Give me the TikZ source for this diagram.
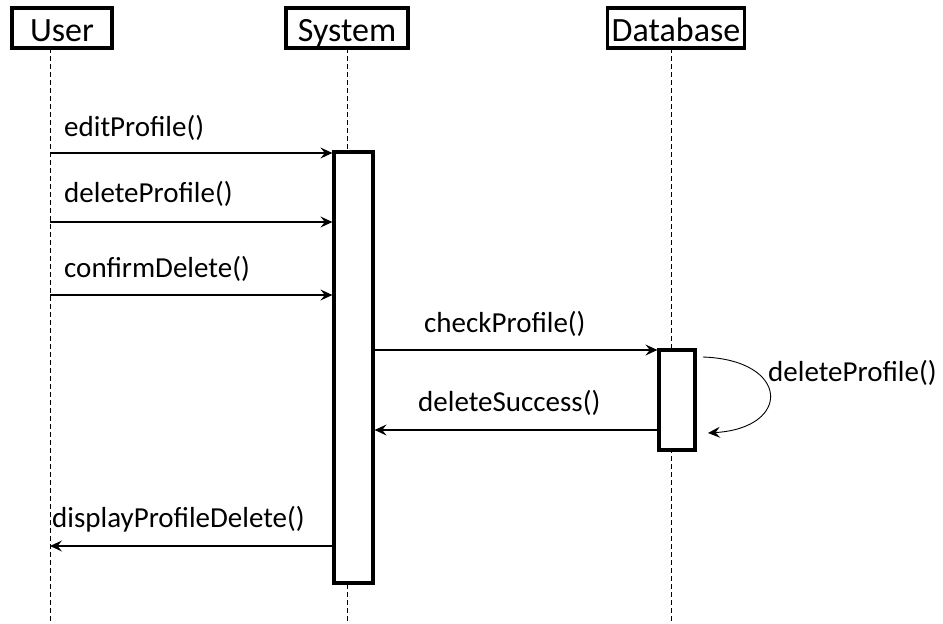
\documentclass[tikz,border=0pt]{standalone}
\usepackage{fontspec}
\setmainfont{Carlito}
\usetikzlibrary{arrows.meta}
\begin{document}
\begin{tikzpicture}[x=1pt,y=-1pt,
  actor/.style={draw, line width=3.2pt, fill=white, inner sep=0pt,
    minimum height=40pt, text height=26pt, text depth=0pt,
    font=\fontsize{34}{40}\selectfont},
  lifeline/.style={draw, line width=0.8pt, dash pattern=on 5pt off 3pt},
  actbox/.style={draw, line width=3.2pt, fill=white, inner sep=0pt},
  msg/.style={draw, line width=1.1pt, -{Stealth[length=12pt,width=11pt,inset=4.5pt]}},
  lbl/.style={anchor=base west, inner sep=0pt, font=\fontsize{29}{34}\selectfont}]
\useasboundingbox (0,0) rectangle (943,624);

% participants
\node[actor, minimum width=100pt] (user) at (62,28) {User};
\node[actor, minimum width=122pt] (system) at (347,28) {System};
\node[actor, minimum width=137pt] (database) at (676,28) {Database};

% lifelines
\coordinate (userTop) at (50,48);   \coordinate (userEnd) at (50,624);
\coordinate (sysTop) at (347,48);   \coordinate (sysEnd) at (347,624);
\coordinate (dbTop) at (671,48);    \coordinate (dbEnd) at (671,624);
\draw[lifeline] (userTop) -- (userEnd);
\draw[lifeline] (sysTop) -- (sysEnd);
\draw[lifeline] (dbTop) -- (dbEnd);

% activation bars
\node[actbox, minimum width=39pt, minimum height=431pt] (sysAct) at (353.5,367.5) {};
\node[actbox, minimum width=36pt, minimum height=100pt] (dbAct) at (677,400) {};

% messages
\coordinate (m1) at (50,153);
\coordinate (m2) at (50,222);
\coordinate (m3) at (50,295);
\coordinate (m4) at (373,350);
\coordinate (m5) at (659,430);
\coordinate (m6) at (334,546);
\draw[msg] (m1) -- (m1 -| sysAct.west);
\draw[msg] (m2) -- (m2 -| sysAct.west);
\draw[msg] (m3) -- (m3 -| sysAct.west);
\draw[msg] (m4) -- (m4 -| dbAct.west);
\draw[msg] (m5) -- (m5 -| sysAct.east);
\draw[msg] (m6) -- (m6 -| userTop);

% self call on the database
\coordinate (selfA) at (703,357);
\coordinate (selfB) at (708,433);
\draw[msg, line width=0.9pt] (selfA) .. controls (790,360) and (792,428) .. (selfB);

% message labels
\node[lbl] (l1) at (64,136) {editProfile()};
\node[lbl] (l2) at (64,202) {deleteProfile()};
\node[lbl] (l3) at (64,277) {confirmDelete()};
\node[lbl] (l4) at (424,332) {checkProfile()};
\node[lbl] (l5) at (418,411) {deleteSuccess()};
\node[lbl] (l6) at (768,381) {deleteProfile()};
\node[lbl] (l7) at (52,527) {displayProfileDelete()};
\end{tikzpicture}
\end{document}
